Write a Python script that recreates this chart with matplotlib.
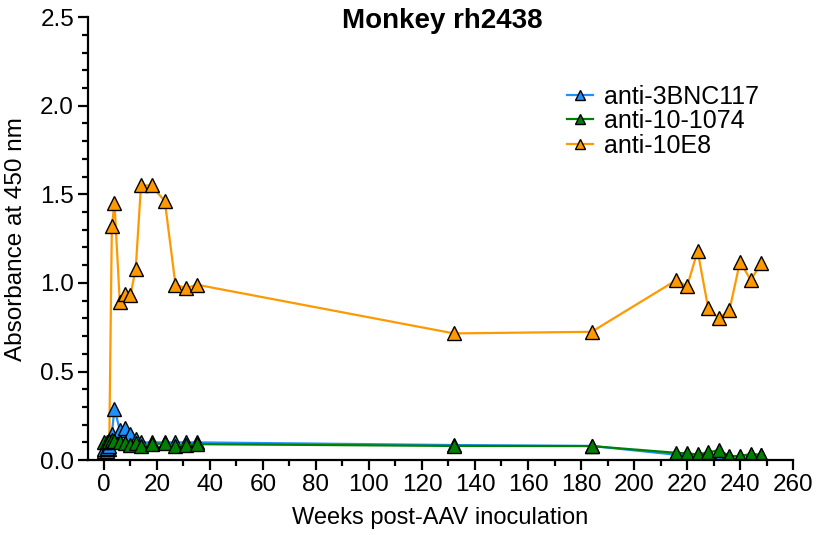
import matplotlib
matplotlib.use("Agg")
import matplotlib.pyplot as plt
from matplotlib.ticker import MultipleLocator, FormatStrFormatter

plt.rcParams['font.family'] = ['Liberation Sans', 'DejaVu Sans']

weeks = [0, 1, 2, 3, 4, 6, 8, 10, 12, 14, 18, 23, 27, 31, 35,
         132, 184, 216, 220, 224, 228, 232, 236, 240, 244, 248]

anti_3bnc117 = [0.06, 0.07, 0.08, 0.15, 0.29, 0.17, 0.18, 0.145, 0.12, 0.10,
                0.10, 0.10, 0.10, 0.10, 0.10, 0.085, 0.08,
                0.03, 0.03, 0.03, 0.03, 0.01, 0.02, 0.02, 0.03, 0.03]
anti_10_1074 = [0.10, 0.10, 0.107, 0.113, 0.107, 0.10, 0.094, 0.085, 0.094, 0.081,
                0.09, 0.094, 0.081, 0.088, 0.09, 0.08, 0.079,
                0.041, 0.038, 0.032, 0.043, 0.056, 0.023, 0.023, 0.034, 0.030]
anti_10e8 = [0.05, 0.05, 0.06, 1.32, 1.45, 0.89, 0.94, 0.93, 1.08, 1.55,
             1.55, 1.46, 0.99, 0.97, 0.99, 0.715, 0.724,
             1.016, 0.98, 1.18, 0.856, 0.80, 0.846, 1.12, 1.016, 1.11]

series = [("anti-3BNC117", anti_3bnc117, "#1E90FF", 2.1),
          ("anti-10-1074", anti_10_1074, "#008000", 2.2),
          ("anti-10E8", anti_10e8, "#FF9900", 2.0)]

fig = plt.figure(figsize=(8.17, 5.35), dpi=100)
ax = fig.add_axes([0.1077, 0.140, 0.863, 0.828])

for label, vals, color, z in series:
    ax.plot(weeks, vals, color=color, lw=1.6, marker='^', markersize=9.5,
            markerfacecolor=color, markeredgecolor='black', markeredgewidth=1.0,
            label=label, zorder=z)

ax.set_xlim(-6, 260)
ax.set_ylim(0, 2.5)
ax.xaxis.set_major_locator(MultipleLocator(20))
ax.xaxis.set_minor_locator(MultipleLocator(10))
ax.yaxis.set_major_locator(MultipleLocator(0.5))
ax.yaxis.set_minor_locator(MultipleLocator(0.1))
ax.yaxis.set_major_formatter(FormatStrFormatter('%.1f'))

for s in ['top', 'right']:
    ax.spines[s].set_visible(False)
for s in ['left', 'bottom']:
    ax.spines[s].set_linewidth(1.6)
ax.tick_params(which='major', length=7, width=1.6, labelsize=17.5, direction='out', pad=3)
ax.tick_params(which='minor', length=4, width=1.6, direction='out')

ax.set_xlabel("Weeks post-AAV inoculation", fontsize=17, labelpad=8)
ax.set_ylabel("Absorbance at 450 nm", fontsize=17.5)
ax.yaxis.set_label_coords(-0.086, 0.5)
fig.text(0.541, 0.960, "Monkey rh2438", fontsize=20, fontweight='bold',
         ha='center', va='center')

ax.legend(loc='upper left', bbox_to_anchor=(0.694, 0.842),
          bbox_transform=fig.transFigure, frameon=False, borderpad=0,
          borderaxespad=0, fontsize=18, handlelength=1.05, handletextpad=0.45,
          labelspacing=0.02, markerscale=0.75)

fig.savefig("out.png", dpi=100)
